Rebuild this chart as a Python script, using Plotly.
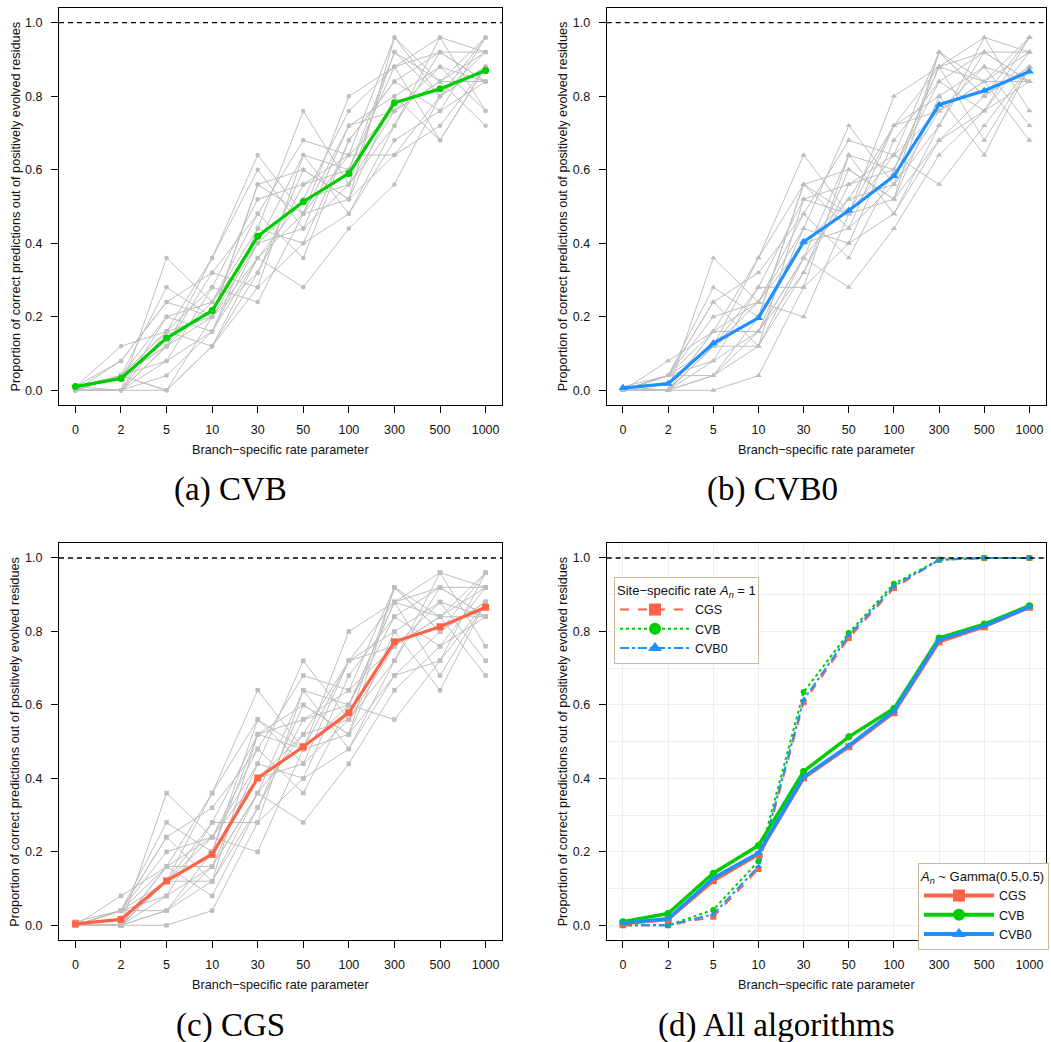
import plotly.graph_objects as go

# Branch-specific rate parameter values (x categories)
rate_labels = ["0", "2", "5", "10", "30", "50", "100", "300", "500", "1000"]

# Per-replicate proportions of correctly predicted positively evolved residues
cvb_runs = [
    [0.00, 0.00, 0.36, 0.24, 0.44, 0.76, 0.56, 0.92, 0.80, 0.88],
    [0.01, 0.12, 0.16, 0.36, 0.64, 0.48, 0.80, 0.88, 0.96, 0.76],
    [0.00, 0.04, 0.28, 0.20, 0.56, 0.60, 0.52, 0.96, 0.84, 0.96],
    [0.00, 0.00, 0.00, 0.12, 0.28, 0.40, 0.68, 0.84, 0.92, 0.92],
    [0.01, 0.08, 0.24, 0.32, 0.48, 0.68, 0.64, 0.76, 0.88, 0.84],
    [0.00, 0.04, 0.12, 0.36, 0.60, 0.44, 0.72, 0.80, 0.68, 0.88],
    [0.00, 0.00, 0.20, 0.16, 0.40, 0.64, 0.48, 0.68, 0.76, 0.96],
    [0.01, 0.04, 0.08, 0.28, 0.52, 0.56, 0.60, 0.92, 0.84, 0.72],
    [0.00, 0.08, 0.24, 0.20, 0.36, 0.28, 0.44, 0.56, 0.80, 0.92],
    [0.00, 0.00, 0.12, 0.20, 0.40, 0.52, 0.76, 0.88, 0.92, 0.84],
    [0.01, 0.04, 0.16, 0.28, 0.24, 0.48, 0.64, 0.64, 0.72, 0.88],
    [0.00, 0.00, 0.04, 0.16, 0.36, 0.52, 0.56, 0.72, 0.96, 0.92],
    [0.00, 0.04, 0.20, 0.24, 0.48, 0.36, 0.68, 0.84, 0.76, 0.84],
    [0.01, 0.00, 0.16, 0.12, 0.32, 0.60, 0.52, 0.80, 0.88, 0.76],
    [0.00, 0.04, 0.00, 0.20, 0.56, 0.48, 0.72, 0.76, 0.84, 0.92],
    [0.00, 0.04, 0.12, 0.32, 0.28, 0.64, 0.60, 0.88, 0.68, 0.88],
    [0.00, 0.00, 0.08, 0.16, 0.44, 0.40, 0.48, 0.72, 0.92, 0.84],
    [0.00, 0.04, 0.16, 0.20, 0.32, 0.56, 0.64, 0.96, 0.80, 0.88],
    [0.00, 0.00, 0.12, 0.24, 0.40, 0.44, 0.56, 0.76, 0.84, 0.84],
    [0.00, 0.04, 0.00, 0.12, 0.36, 0.48, 0.52, 0.64, 0.80, 0.96],
]

cvb0_runs = [
    [0.00, 0.00, 0.36, 0.24, 0.44, 0.72, 0.56, 0.92, 0.80, 0.88],
    [0.00, 0.08, 0.16, 0.36, 0.64, 0.48, 0.80, 0.88, 0.96, 0.76],
    [0.00, 0.04, 0.28, 0.20, 0.56, 0.60, 0.52, 0.92, 0.84, 0.96],
    [0.00, 0.00, 0.00, 0.04, 0.28, 0.40, 0.68, 0.84, 0.92, 0.92],
    [0.01, 0.04, 0.24, 0.32, 0.48, 0.68, 0.64, 0.76, 0.88, 0.84],
    [0.00, 0.04, 0.12, 0.36, 0.56, 0.44, 0.72, 0.80, 0.64, 0.88],
    [0.00, 0.00, 0.16, 0.16, 0.36, 0.64, 0.48, 0.68, 0.76, 0.96],
    [0.00, 0.04, 0.08, 0.28, 0.52, 0.56, 0.60, 0.88, 0.84, 0.68],
    [0.00, 0.04, 0.24, 0.12, 0.36, 0.28, 0.44, 0.64, 0.76, 0.92],
    [0.00, 0.00, 0.12, 0.20, 0.40, 0.52, 0.72, 0.88, 0.92, 0.84],
    [0.01, 0.00, 0.16, 0.24, 0.20, 0.48, 0.64, 0.56, 0.72, 0.88],
    [0.00, 0.00, 0.04, 0.16, 0.36, 0.52, 0.56, 0.72, 0.96, 0.92],
    [0.00, 0.04, 0.20, 0.24, 0.48, 0.36, 0.60, 0.84, 0.76, 0.84],
    [0.00, 0.00, 0.12, 0.12, 0.32, 0.60, 0.52, 0.80, 0.88, 0.72],
    [0.00, 0.04, 0.04, 0.20, 0.56, 0.48, 0.72, 0.76, 0.84, 0.92],
    [0.00, 0.00, 0.12, 0.28, 0.28, 0.64, 0.60, 0.88, 0.68, 0.88],
    [0.00, 0.00, 0.08, 0.16, 0.44, 0.40, 0.48, 0.72, 0.92, 0.84],
    [0.00, 0.04, 0.16, 0.16, 0.32, 0.56, 0.64, 0.92, 0.80, 0.88],
    [0.00, 0.00, 0.12, 0.24, 0.40, 0.44, 0.56, 0.76, 0.84, 0.84],
    [0.00, 0.00, 0.04, 0.12, 0.52, 0.48, 0.52, 0.68, 0.80, 0.96],
]

cgs_runs = [
    [0.00, 0.00, 0.36, 0.24, 0.44, 0.72, 0.56, 0.92, 0.80, 0.88],
    [0.00, 0.08, 0.16, 0.36, 0.64, 0.48, 0.80, 0.88, 0.96, 0.76],
    [0.00, 0.04, 0.28, 0.20, 0.52, 0.60, 0.52, 0.92, 0.84, 0.96],
    [0.00, 0.00, 0.00, 0.04, 0.28, 0.40, 0.68, 0.84, 0.92, 0.92],
    [0.01, 0.04, 0.24, 0.32, 0.48, 0.68, 0.64, 0.76, 0.88, 0.84],
    [0.00, 0.04, 0.12, 0.36, 0.56, 0.44, 0.72, 0.80, 0.64, 0.88],
    [0.00, 0.00, 0.16, 0.16, 0.36, 0.64, 0.48, 0.68, 0.72, 0.96],
    [0.00, 0.04, 0.08, 0.28, 0.52, 0.56, 0.60, 0.88, 0.84, 0.68],
    [0.00, 0.04, 0.24, 0.12, 0.36, 0.28, 0.44, 0.64, 0.76, 0.92],
    [0.00, 0.00, 0.12, 0.20, 0.40, 0.52, 0.72, 0.88, 0.92, 0.84],
    [0.00, 0.00, 0.16, 0.24, 0.20, 0.48, 0.60, 0.56, 0.72, 0.88],
    [0.00, 0.00, 0.04, 0.16, 0.36, 0.52, 0.56, 0.72, 0.96, 0.92],
    [0.00, 0.04, 0.20, 0.24, 0.48, 0.36, 0.60, 0.84, 0.76, 0.84],
    [0.00, 0.00, 0.12, 0.12, 0.32, 0.60, 0.52, 0.80, 0.88, 0.72],
    [0.00, 0.04, 0.04, 0.20, 0.56, 0.48, 0.72, 0.76, 0.84, 0.92],
    [0.00, 0.00, 0.12, 0.28, 0.28, 0.64, 0.60, 0.88, 0.68, 0.88],
    [0.00, 0.00, 0.08, 0.16, 0.44, 0.40, 0.48, 0.72, 0.92, 0.84],
    [0.00, 0.04, 0.16, 0.08, 0.32, 0.56, 0.64, 0.92, 0.80, 0.88],
    [0.00, 0.00, 0.12, 0.24, 0.40, 0.44, 0.56, 0.76, 0.84, 0.84],
    [0.00, 0.00, 0.04, 0.12, 0.52, 0.48, 0.52, 0.68, 0.80, 0.96],
]

# Average over replicates, A_n ~ Gamma(0.5, 0.5)
cvb_mean = [0.010, 0.032, 0.142, 0.217, 0.419, 0.513, 0.590, 0.782, 0.820, 0.870]
cvb0_mean = [0.006, 0.018, 0.128, 0.197, 0.404, 0.489, 0.583, 0.777, 0.815, 0.867]
cgs_mean = [0.004, 0.016, 0.121, 0.193, 0.401, 0.486, 0.579, 0.772, 0.813, 0.866]

# Average over replicates, constant site-specific rate A_n = 1
cgs_const = [0.000, 0.000, 0.023, 0.153, 0.607, 0.782, 0.918, 0.995, 1.000, 1.000]
cvb_const = [0.000, 0.000, 0.042, 0.175, 0.635, 0.796, 0.930, 0.995, 1.000, 1.000]
cvb0_const = [0.000, 0.000, 0.030, 0.160, 0.614, 0.789, 0.923, 0.995, 1.000, 1.000]

GREEN = "#00CD00"
BLUE = "#1E90FF"
RED = "#FF6347"
GREY = "#BEBEBE"
SANS = "Liberation Sans"
SERIF = "Liberation Serif"

W, H = 1051, 1042


def px_x(v):
    return v / W


def px_y(v):
    return 1 - v / H


def sfx(k):
    return "" if k == 1 else str(k)


# panel frames in pixels: (left, top, right, bottom)
frames = {
    1: (59, 8, 502, 405),
    2: (606.7, 8, 1045.7, 405),
    3: (59, 543.3, 502, 940),
    4: (606.7, 543.3, 1045.7, 940),
}

fig = go.Figure()


def add_runs(runs, mean, color, symbol, gsize, msize, k):
    for run in runs:
        fig.add_trace(go.Scatter(
            x=rate_labels, y=run, mode="lines+markers",
            line=dict(color=GREY, width=1),
            marker=dict(color=GREY, size=gsize, symbol=symbol),
            xaxis="x" + sfx(k), yaxis="y" + sfx(k), showlegend=False, hoverinfo="skip"))
    fig.add_trace(go.Scatter(
        x=rate_labels, y=mean, mode="lines+markers",
        line=dict(color=color, width=3.2),
        marker=dict(color=color, size=msize, symbol=symbol),
        xaxis="x" + sfx(k), yaxis="y" + sfx(k), showlegend=False))


add_runs(cvb_runs, cvb_mean, GREEN, "circle", 4.5, 7, 1)
add_runs(cvb0_runs, cvb0_mean, BLUE, "triangle-up", 5.5, 8, 2)
add_runs(cgs_runs, cgs_mean, RED, "square", 4.5, 7, 3)

# Panel (d): constant-rate curves
const_series = [
    ("CGS", cgs_const, RED, "square", "dash"),
    ("CVB", cvb_const, GREEN, "circle", "dot"),
    ("CVB0", cvb0_const, BLUE, "triangle-up", "dashdot"),
]
for name, vals, color, sym, dash in const_series:
    fig.add_trace(go.Scatter(
        x=rate_labels, y=vals, mode="lines+markers",
        line=dict(color=color, width=2, dash=dash),
        marker=dict(color=color, size=6, symbol=sym),
        xaxis="x4", yaxis="y4", showlegend=False))

# Panel (d): gamma-distributed rate curves
gamma_series = [
    ("CGS", cgs_mean, RED, "square"),
    ("CVB", cvb_mean, GREEN, "circle"),
    ("CVB0", cvb0_mean, BLUE, "triangle-up"),
]
for name, vals, color, sym in gamma_series:
    fig.add_trace(go.Scatter(
        x=rate_labels, y=vals, mode="lines+markers",
        line=dict(color=color, width=3.5),
        marker=dict(color=color, size=7, symbol=sym),
        xaxis="x4", yaxis="y4", showlegend=False))

# legend entries
for name, vals, color, sym, dash in const_series:
    fig.add_trace(go.Scatter(
        x=[None], y=[None], mode="lines+markers", name=name,
        line=dict(color=color, width=2, dash=dash),
        marker=dict(color=color, size=12, symbol=sym),
        xaxis="x4", yaxis="y4", legend="legend"))
for name, vals, color, sym in gamma_series:
    fig.add_trace(go.Scatter(
        x=[None], y=[None], mode="lines+markers", name=name,
        line=dict(color=color, width=4),
        marker=dict(color=color, size=12, symbol=sym),
        xaxis="x4", yaxis="y4", legend="legend2"))

tick_font = dict(family=SANS, size=12.5, color="#111111")
layout = dict(
    width=W, height=H, autosize=False,
    margin=dict(l=0, r=0, t=0, b=0),
    paper_bgcolor="white", plot_bgcolor="white",
    showlegend=True,
)

for k, (l, t, r, b) in frames.items():
    grid = k == 4
    layout["xaxis" + sfx(k)] = dict(
        domain=[px_x(l), px_x(r)], anchor="y" + sfx(k), type="category",
        range=[-0.36, 9.36], showline=True, mirror=True, linecolor="black",
        linewidth=1.2, ticks="outside", ticklen=7, tickwidth=1, tickcolor="black",
        tickfont=tick_font, showgrid=grid, gridcolor="#EDEDED", zeroline=False,
        ticklabelstandoff=6,
    )
    layout["yaxis" + sfx(k)] = dict(
        domain=[px_y(b), px_y(t)], anchor="x" + sfx(k), range=[-0.04, 1.04],
        tickvals=[0, 0.2, 0.4, 0.6, 0.8, 1.0],
        ticktext=["0.0", "0.2", "0.4", "0.6", "0.8", "1.0"],
        showline=True, mirror=True, linecolor="black", linewidth=1.2,
        ticks="outside", ticklen=7, tickwidth=1, tickcolor="black",
        tickfont=tick_font, showgrid=grid, gridcolor="#EDEDED", zeroline=False,
        ticklabelstandoff=6,
        minor=dict(tickvals=[0.1, 0.3, 0.5, 0.7, 0.9], showgrid=grid,
                   gridcolor="#EDEDED", ticks=""),
    )

legend_common = dict(
    bgcolor="white", bordercolor="#C9B99A", borderwidth=1,
    font=dict(family=SANS, size=12.5, color="#111111"),
    itemwidth=70, xanchor="left", yanchor="top", tracegroupgap=0,
)
layout["legend"] = dict(
    x=px_x(614), y=px_y(577),
    title=dict(text="Site\u2212specific rate <i>A</i><sub><i>n</i></sub> = 1",
               font=dict(family=SANS, size=13, color="#111111")),
    **legend_common)
layout["legend2"] = dict(
    x=px_x(918), y=px_y(863),
    title=dict(text="<i>A</i><sub><i>n</i></sub> ~ Gamma(0.5,0.5)",
               font=dict(family=SANS, size=13, color="#111111")),
    **legend_common)

fig.update_layout(**layout)

# reference line at a perfect proportion
for k in frames:
    fig.add_shape(type="line", xref="x" + sfx(k) + " domain", yref="y" + sfx(k),
                  x0=0, x1=1, y0=1, y1=1,
                  line=dict(color="black", width=1.3, dash="5px,4px"))

# axis titles and captions
title_font = dict(family=SANS, size=12.7, color="#111111")
captions = {1: "(a) CVB", 2: "(b) CVB0", 3: "(c) CGS", 4: "(d) All algorithms"}
caption_x = {1: 230, 2: 772, 3: 230, 4: 776}
for k, (l, t, r, b) in frames.items():
    cx = (l + r) / 2
    fig.add_annotation(x=px_x(cx), y=px_y(b + 45), xref="paper", yref="paper",
                       text="Branch\u2212specific rate parameter", showarrow=False,
                       font=title_font, xanchor="center", yanchor="middle")
    fig.add_annotation(x=px_x(l - 44), y=px_y((t + b) / 2), xref="paper", yref="paper",
                       text="Proportion of correct predictions out of positively evolved residues",
                       textangle=-90, showarrow=False, font=title_font,
                       xanchor="center", yanchor="middle")
    fig.add_annotation(x=px_x(caption_x[k]), y=px_y(b + 85), xref="paper", yref="paper",
                       text=captions[k], showarrow=False,
                       font=dict(family=SERIF, size=33, color="black"),
                       xanchor="center", yanchor="middle")

fig.write_html("out.html")
